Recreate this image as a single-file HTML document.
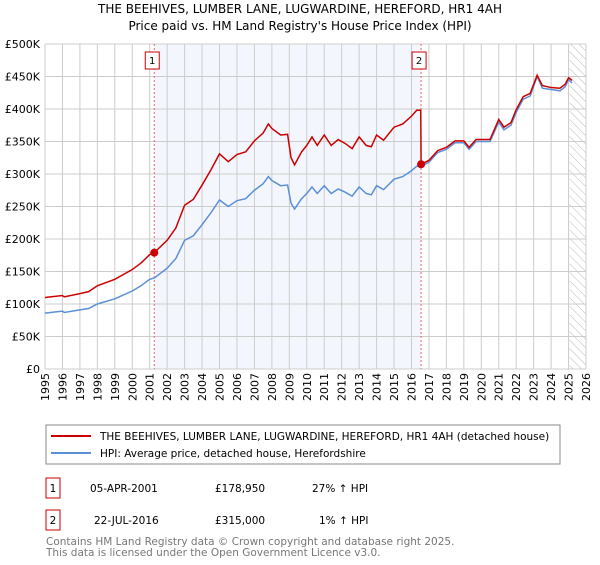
<!DOCTYPE html>
<html><head><meta charset="utf-8"><style>
body{margin:0;background:#fff;font-family:"Liberation Sans","DejaVu Sans",sans-serif;}
svg text{font-family:"DejaVu Sans","Liberation Sans",sans-serif;}
</style></head><body>
<svg id="c" width="600" height="560" xmlns="http://www.w3.org/2000/svg">
<defs><pattern id="hatch" width="6" height="6" patternUnits="userSpaceOnUse" patternTransform="rotate(-45)"><line x1="0" y1="0" x2="0" y2="6" stroke="#bbb" stroke-width="1"/></pattern></defs>
<text x="300" y="13" text-anchor="middle" font-size="12">THE BEEHIVES, LUMBER LANE, LUGWARDINE, HEREFORD, HR1 4AH</text>
<text x="300" y="30" text-anchor="middle" font-size="12">Price paid vs. HM Land Registry's House Price Index (HPI)</text>
<g id="plot"></g>
<rect x="46" y="425" width="514" height="39" fill="none" stroke="#888"/>
<line x1="51" y1="436" x2="91" y2="436" stroke="#cc0000" stroke-width="2"/>
<text x="100" y="440" font-size="10.5">THE BEEHIVES, LUMBER LANE, LUGWARDINE, HEREFORD, HR1 4AH (detached house)</text>
<line x1="51" y1="453" x2="91" y2="453" stroke="#5b8fd6" stroke-width="2"/>
<text x="100" y="457" font-size="10.5">HPI: Average price, detached house, Herefordshire</text>
<g font-size="10.5">
<rect x="46" y="478" width="14" height="20" fill="none" stroke="#cc0000"/>
<text x="53" y="492" text-anchor="middle">1</text>
<text x="90" y="492">05-APR-2001</text><text x="215" y="492">£178,950</text><text x="312" y="492">27% ↑ HPI</text>
<rect x="46" y="510" width="14" height="20" fill="none" stroke="#cc0000"/>
<text x="53" y="524" text-anchor="middle">2</text>
<text x="94" y="524">22-JUL-2016</text><text x="215" y="524">£315,000</text><text x="319" y="524">1% ↑ HPI</text>
</g>
<text x="46" y="545" font-size="10.5" fill="#777">Contains HM Land Registry data © Crown copyright and database right 2025.</text>
<text x="46" y="556" font-size="10.5" fill="#777">This data is licensed under the Open Government Licence v3.0.</text>
</svg>
<script>
const hpiYears=[1995,1996,1996.1,1997,1997.5,1998,1999,2000,2000.5,2001,2001.26,2002,2002.5,2003,2003.5,2004,2004.5,2005,2005.5,2006,2006.5,2007,2007.5,2007.8,2008,2008.5,2008.9,2009.1,2009.3,2009.7,2010,2010.3,2010.6,2011,2011.4,2011.8,2012.2,2012.6,2013,2013.4,2013.7,2014,2014.4,2015,2015.5,2016,2016.3,2016.55,2017,2017.5,2018,2018.5,2019,2019.3,2019.7,2020,2020.5,2021,2021.3,2021.7,2022,2022.4,2022.8,2023.2,2023.5,2024,2024.5,2024.8,2025,2025.2];
const hpiValues=[86,89,87,91,93,100,108,120,128,138,140,155,170,198,205,222,240,260,250,259,262,275,285,296,290,282,283,255,246,262,270,280,270,282,270,277,272,266,280,270,268,282,276,292,296,305,312,312,318,333,338,348,348,338,350,350,350,380,368,375,395,415,420,450,432,430,428,434,445,440];
const priceYears=[1995,1996,1996.1,1997,1997.5,1998,1999,2000,2000.5,2001,2001.26,2002,2002.5,2003,2003.5,2004,2004.5,2005,2005.5,2006,2006.5,2007,2007.5,2007.8,2008,2008.5,2008.9,2009.1,2009.3,2009.7,2010,2010.3,2010.6,2011,2011.4,2011.8,2012.2,2012.6,2013,2013.4,2013.7,2014,2014.4,2015,2015.5,2016,2016.3,2016.53,2016.55,2017,2017.5,2018,2018.5,2019,2019.3,2019.7,2020,2020.5,2021,2021.3,2021.7,2022,2022.4,2022.8,2023.2,2023.5,2024,2024.5,2024.8,2025,2025.2];
const priceValues=[110,113,111,116,119,128,138,153,163,176,179,198,217,252,261,283,306,331,319,330,334,351,363,377,370,360,361,325,314,334,344,357,344,360,344,353,347,339,357,344,342,360,352,372,377,389,398,398,315,321,336,341,351,351,341,353,353,353,384,372,379,399,419,424,452,436,433,432,438,448,444];
const saleYears=[2001.26,2016.55];
const saleValues=[178.95,315];
const saleLabels=["1","2"];
const yTicks=[0,50,100,150,200,250,300,350,400,450,500];
const yTickLabels=["£0","£50K","£100K","£150K","£200K","£250K","£300K","£350K","£400K","£450K","£500K"];
const xTicks=[1995,1996,1997,1998,1999,2000,2001,2002,2003,2004,2005,2006,2007,2008,2009,2010,2011,2012,2013,2014,2015,2016,2017,2018,2019,2020,2021,2022,2023,2024,2025,2026];

const L=45,R=586,T=44,B=369,X0=1995,X1=2026;
const xs=v=>L+(v-X0)/(X1-X0)*(R-L);
const ys=v=>B-v/500*(B-T);
const g=document.getElementById('plot');
const NS='http://www.w3.org/2000/svg';
function mk(t,a){const e=document.createElementNS(NS,t);for(const k in a)e.setAttribute(k,a[k]);g.appendChild(e);return e;}
let e;
e=mk('rect',{x:xs(saleYears[0]),y:T,width:xs(saleYears[1])-xs(saleYears[0]),height:B-T,fill:'#eef3fc',opacity:0.7});


e=mk('rect',{x:xs(2025.05),y:T,width:R-xs(2025.05),height:B-T,fill:'url(#hatch)'});


xTicks.forEach((t,i)=>{
 e=mk('line',{x1:xs(t),x2:xs(t),y1:T,y2:B,stroke:'#ccc','stroke-width':1});
 
 
 e=mk('text',{x:0,y:0,'font-size':11,'text-anchor':'end',transform:`translate(${xs(t)+4},${B+4}) rotate(-90)`});
 e.textContent=t;
 
 
});
yTicks.forEach((t,i)=>{
 e=mk('line',{x1:L,x2:R,y1:ys(t),y2:ys(t),stroke:'#ccc','stroke-width':1});
 
 
 e=mk('text',{x:L-5,y:ys(t)+4,'font-size':11,'text-anchor':'end'});
 e.textContent=yTickLabels[i];
 
 
});
e=mk('line',{x1:L,x2:R,y1:B,y2:B,stroke:'#ccc'});


saleYears.forEach((s,i)=>{
 e=mk('line',{x1:xs(s),x2:xs(s),y1:T,y2:B,stroke:'#e66','stroke-width':1,'stroke-dasharray':'2,2'});
 
 
 e=mk('rect',{x:xs(s)-9,y:52,width:14,height:17,fill:'#fff',stroke:'#cc0000'});
 
 
 e=mk('text',{x:xs(s)-2,y:64,'font-size':10,'text-anchor':'middle'});
 e.textContent=saleLabels[i];
 
 
});
e=mk('polyline',{points:hpiYears.map((y,i)=>xs(y)+','+ys(hpiValues[i])).join(' '),fill:'none',stroke:'#5b8fd6','stroke-width':1.5});


e=mk('polyline',{points:priceYears.map((y,i)=>xs(y)+','+ys(priceValues[i])).join(' '),fill:'none',stroke:'#cc0000','stroke-width':1.5});


saleYears.forEach((s,i)=>{
 e=mk('circle',{cx:xs(s),cy:ys(saleValues[i]),r:4,fill:'#cc0000'});
 
 
});
</script>
</body></html>
